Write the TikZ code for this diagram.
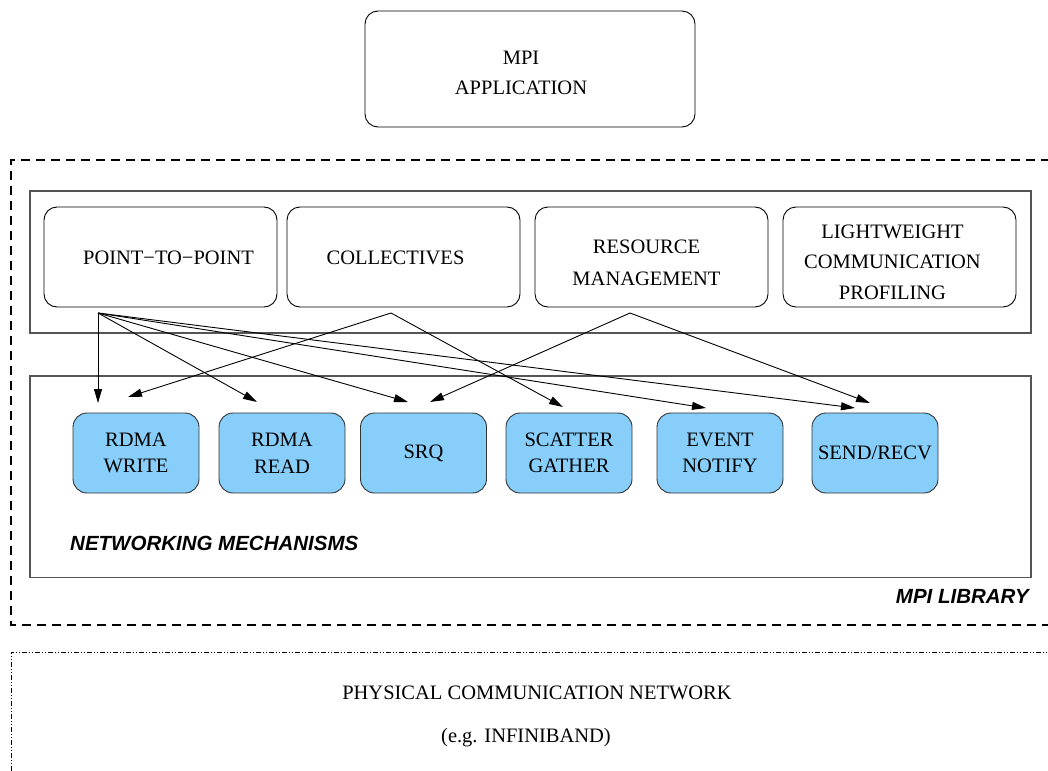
\documentclass[tikz,border=0pt]{standalone}
\usepackage{fontspec}
\setmainfont{Liberation Serif}
\newfontfamily\labelsans{Liberation Sans}
\usetikzlibrary{arrows.meta}
\definecolor{mechblue}{RGB}{135,206,250}
\definecolor{framegray}{RGB}{85,85,85}

\begin{document}
\begin{tikzpicture}[x=1pt,y=-1pt,
  every node/.style={font=\fontsize{20.5}{29}\selectfont},
  roundbox/.style={draw=black, line width=0.9pt, rounded corners=13pt,
    inner sep=0pt},
  layerbox/.style={roundbox, minimum width=233pt, minimum height=100pt},
  boxtext/.style={inner sep=0pt, align=center,
    font=\fontsize{20.5}{30.5}\selectfont},
  mechbox/.style={draw=black!80, line width=0.9pt, fill=mechblue,
    rounded corners=14pt, align=center, minimum width=126pt,
    minimum height=80pt, inner sep=0pt,
    font=\fontsize{20.5}{26.5}\selectfont},
  frame/.style={draw=framegray, line width=1.2pt, inner sep=0pt},
  tag/.style={font=\labelsans\bfseries\itshape\fontsize{20.5}{24}\selectfont,
    inner sep=0pt},
  plain/.style={inner sep=0pt},
  link/.style={draw, line width=0.9pt, -{Triangle[length=14pt,width=8pt]}}
]
\useasboundingbox (0,0) rectangle (1048,770);
\clip (0,0) rectangle (1048,770);

% application on top
\node[roundbox, minimum width=330pt, minimum height=116pt] (app) at (530,69) {};
\node[boxtext] (apptext) at ([shift={(-9,4)}]app.center) {MPI\\APPLICATION};

% MPI library (dashed) and physical network (dash-dot-dot)
\draw[line width=1.3pt, dash pattern=on 9pt off 6pt]
  (1080,160) -- (11,160) -- (11,625) -- (1080,625);
\draw[line width=1pt, dash pattern=on 5pt off 2pt on 1pt off 2pt on 1pt off 2pt]
  (1080,652) -- (11,652) -- (11,790);

% layer frames
\node[frame, minimum width=1001pt, minimum height=142pt] (upper) at (530.5,262) {};
\node[frame, minimum width=1001pt, minimum height=201.5pt] (lower) at (530.5,476.75) {};

% library components
\node[layerbox] (p2p) at (160.5,257) {};
\node[layerbox] (coll) at (403.5,257) {};
\node[layerbox] (res) at (651.5,257) {};
\node[layerbox] (lcp) at (899.5,257) {};
\node[boxtext] (p2ptext) at ([shift={(8,1)}]p2p.center) {POINT−TO−POINT};
\node[boxtext] (colltext) at ([shift={(-8,1)}]coll.center) {COLLECTIVES};
\node[boxtext, font=\fontsize{20.5}{32}\selectfont] (restext)
  at ([shift={(-5,6)}]res.center) {RESOURCE\\MANAGEMENT};
\node[boxtext] (lcptext) at ([shift={(-7,5)}]lcp.center)
  {LIGHTWEIGHT\\COMMUNICATION\\PROFILING};

% networking mechanisms
\node[mechbox] (write) at (136,453) {RDMA\\WRITE};
\node[mechbox] (read) at (282,453) {RDMA\\READ};
\node[mechbox] (srq) at (423.5,453) {SRQ};
\node[mechbox] (sg) at (569,453) {SCATTER\\GATHER};
\node[mechbox] (ev) at (720,453) {EVENT\\NOTIFY};
\node[mechbox] (sr) at (875,453) {SEND/RECV};

\node[tag, anchor=west] (nmlabel) at (70,543) {NETWORKING MECHANISMS};
\node[tag, anchor=east] (liblabel) at (1029,596) {MPI LIBRARY};

\node[plain] (net) at (537,693) {PHYSICAL COMMUNICATION NETWORK};
\node[plain] (netex) at (526,738) {(e.g. INFINIBAND)};

% arrow origins below the components
\coordinate (p2p-out) at (98,313);
\coordinate (coll-out) at (391,313);
\coordinate (res-out) at (630,313);
% arrow tips above the mechanisms
\coordinate (write-a) at (98,403);
\coordinate (write-b) at (128,397);
\coordinate (read-a) at (257,402);
\coordinate (srq-a) at (408,402);
\coordinate (srq-b) at (430,402);
\coordinate (sg-a) at (563,407);
\coordinate (ev-a) at (706,408);
\coordinate (sr-a) at (855,408);
\coordinate (sr-b) at (870,403);

\draw[link] (p2p-out) -- (write-a);
\draw[link] (p2p-out) -- (read-a);
\draw[link] (p2p-out) -- (srq-a);
\draw[link] (p2p-out) -- (ev-a);
\draw[link] (p2p-out) -- (sr-a);
\draw[link] (coll-out) -- (write-b);
\draw[link] (coll-out) -- (sg-a);
\draw[link] (res-out) -- (srq-b);
\draw[link] (res-out) -- (sr-b);
\end{tikzpicture}
\end{document}
